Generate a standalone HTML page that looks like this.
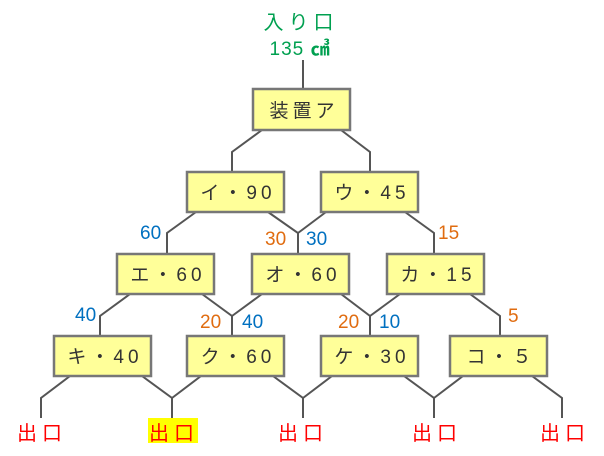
<!DOCTYPE html>
<html><head><meta charset="utf-8"><style>
body{margin:0;background:#fff;width:604px;height:451px;overflow:hidden}
svg text{font-family:"Liberation Sans","Noto Sans CJK JP",sans-serif}
.b{fill:#ffff99;stroke:#777;stroke-width:2.5}
.t{font-size:19px;fill:#333;text-anchor:middle;letter-spacing:4px}
.o{font-size:19px;fill:#e06c10}
.u{font-size:19px;fill:#0070c0}
.x{font-size:20px;fill:#f00;letter-spacing:5px}
</style></head><body>
<svg width="604" height="451" xmlns="http://www.w3.org/2000/svg">
<g stroke="#555" stroke-width="2" fill="none">
<path d="M303 60V90"/>
<path d="M262 130L232 152V172M341 130L370 152V172"/>
<path d="M196 212L167 233V253M268 212L298 233V253M326 212L298 233M405 212L434 233V253"/>
<path d="M130 294L100 316V336M202 294L232 316V336M262 294L232 316M341 294L370 316V336M400 294L370 316M470 294L500 316V336"/>
<path d="M70 376L41 398V418M142 376L172 398V418M201 376L172 398M273 376L303 398V418M332 376L303 398M404 376L434 398V418M463 376L434 398M532 376L562 398V418"/>
</g>
<rect class="b" x="253" y="89" width="97" height="41"/>
<rect class="b" x="187" y="172" width="97" height="40"/>
<rect class="b" x="321" y="172" width="97" height="40"/>
<rect class="b" x="117" y="254" width="97" height="40"/>
<rect class="b" x="252" y="254" width="97" height="40"/>
<rect class="b" x="387" y="254" width="97" height="40"/>
<rect class="b" x="54" y="336" width="97" height="40"/>
<rect class="b" x="187" y="336" width="97" height="40"/>
<rect class="b" x="321" y="336" width="97" height="40"/>
<rect class="b" x="450" y="336" width="97" height="40"/>
<text class="t" x="304" y="117">装置ア</text>
<text class="t" x="238" y="199">イ・90</text>
<text class="t" x="372" y="199">ウ・45</text>
<text class="t" x="168" y="281">エ・60</text>
<text class="t" x="303" y="281">オ・60</text>
<text class="t" x="438" y="281">カ・15</text>
<text class="t" x="105" y="363">キ・40</text>
<text class="t" x="238" y="363">ク・60</text>
<text class="t" x="372" y="363">ケ・30</text>
<text class="t" x="501" y="363">コ・５</text>
<text x="301" y="29" font-size="20" fill="#00a050" text-anchor="middle" letter-spacing="5">入り口</text>
<text x="300" y="55" font-size="19" fill="#00a050" text-anchor="middle" letter-spacing="1">135 <tspan font-weight="bold">㎤</tspan></text>
<text class="u" x="140" y="239">60</text>
<text class="o" x="265" y="245">30</text>
<text class="u" x="306" y="245">30</text>
<text class="o" x="438" y="239">15</text>
<text class="u" x="75" y="321">40</text>
<text class="o" x="200" y="328">20</text>
<text class="u" x="242" y="328">40</text>
<text class="o" x="338" y="328">20</text>
<text class="u" x="379" y="328">10</text>
<text class="o" x="508" y="322">5</text>
<rect x="148" y="418" width="50" height="25" fill="#ffff00"/>
<text class="x" x="17" y="440">出口</text>
<text class="x" x="149" y="440">出口</text>
<text class="x" x="278" y="440">出口</text>
<text class="x" x="412" y="440">出口</text>
<text class="x" x="540" y="440">出口</text>
</svg>
</body></html>
